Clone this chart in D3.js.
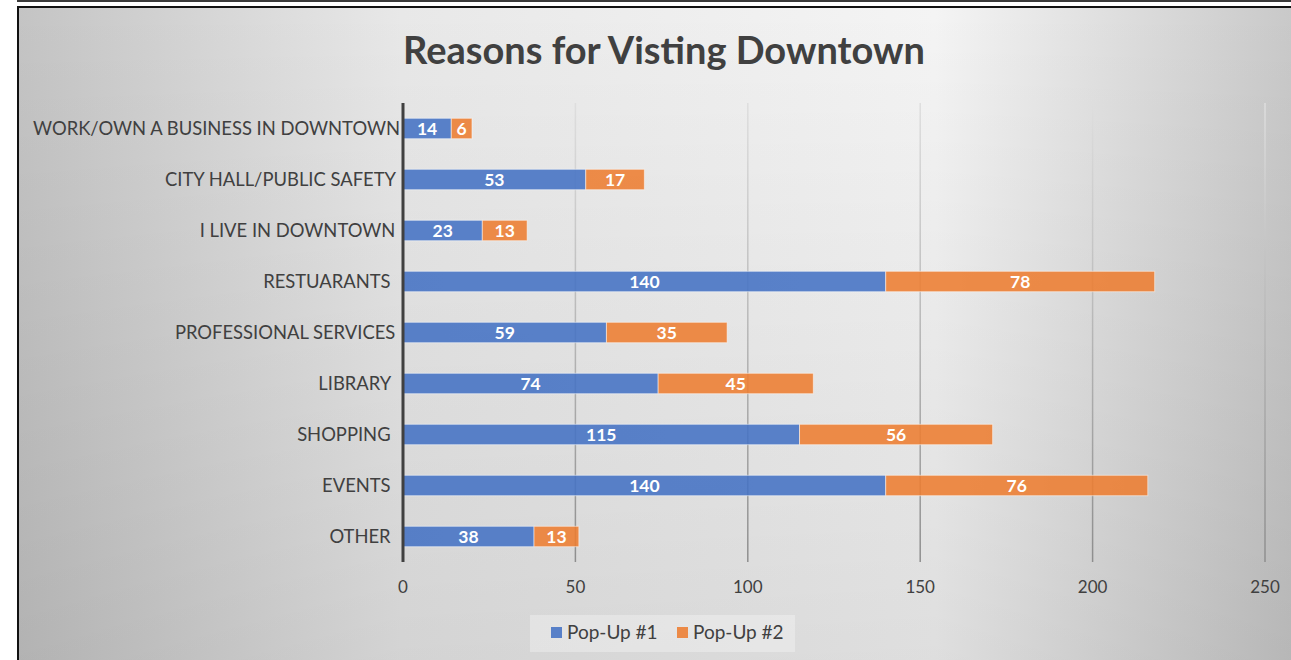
<!DOCTYPE html>
<html>
<head>
<meta charset="utf-8">
<script src="https://cdn.jsdelivr.net/npm/d3@7"></script>
<style>
  body { margin: 0; background: #fff; }
  svg text { white-space: pre; }
</style>
</head>
<body>
<div id="chart"></div>
<script>
// Data (top to bottom)
const categories = [
  "WORK/OWN A BUSINESS IN DOWNTOWN",
  "CITY HALL/PUBLIC SAFETY ",
  "I LIVE IN DOWNTOWN ",
  "RESTUARANTS  ",
  "PROFESSIONAL SERVICES ",
  "LIBRARY  ",
  "SHOPPING  ",
  "EVENTS  ",
  "OTHER  "
];
const popUp1 = [14, 53, 23, 140, 59, 74, 115, 140, 38];
const popUp2 = [6, 17, 13, 78, 35, 45, 56, 76, 13];
const seriesNames = ["Pop-Up #1", "Pop-Up #2"];
const seriesColors = ["#4472C4", "#ED7D31"];
const xTicks = [0, 50, 100, 150, 200, 250];

let width = 1291;
let height = 660;
let textColor = "#404040";
let font = "Lato, 'Open Sans', sans-serif";

let svg = d3.select("#chart")
  .append("svg")
  .attr("width", width)
  .attr("height", height);

let defs = svg.append("defs");

// background gradient: light in the upper middle, darker at the sides
let bgGrad = defs.append("linearGradient")
  .attr("id", "bg")
  .attr("x1", 0).attr("x2", 1).attr("y1", 0).attr("y2", 0);
bgGrad.append("stop").attr("offset", 0).attr("stop-color", "#c4c4c4");
bgGrad.append("stop").attr("offset", 0.3).attr("stop-color", "#e8e8e8");
bgGrad.append("stop").attr("offset", 0.72).attr("stop-color", "#f4f4f4");
bgGrad.append("stop").attr("offset", 1).attr("stop-color", "#c9c9c9");

let shade = defs.append("linearGradient")
  .attr("id", "shade")
  .attr("x1", 0).attr("x2", 0).attr("y1", 0).attr("y2", 1);
shade.append("stop").attr("offset", 0).attr("stop-color", "#000").attr("stop-opacity", 0);
shade.append("stop").attr("offset", 1).attr("stop-color", "#000").attr("stop-opacity", 0.09);

// scales
let xScale = d3.scaleLinear()
  .domain([0, 250])
  .range([403, 1265]);

let yScale = d3.scaleBand()
  .domain(categories)
  .range([103, 562])
  .paddingInner(0.6)
  .paddingOuter(0.3);

// gridline gradient fades toward the top
let gridGrad = defs.append("linearGradient")
  .attr("id", "grid")
  .attr("gradientUnits", "userSpaceOnUse")
  .attr("x1", 0).attr("x2", 0)
  .attr("y1", yScale.range()[0]).attr("y2", yScale.range()[1]);
gridGrad.append("stop").attr("offset", 0).attr("stop-color", "#dedede");
gridGrad.append("stop").attr("offset", 1).attr("stop-color", "#8e8e8e");

// frame lines
svg.append("rect")
  .attr("x", 17).attr("y", 0)
  .attr("width", width - 17).attr("height", 2)
  .attr("fill", "#3a3a3a");
svg.append("rect")
  .attr("x", 17).attr("y", 6)
  .attr("width", width - 17).attr("height", height - 6)
  .attr("fill", "#111");
svg.append("rect")
  .attr("x", 19).attr("y", 8)
  .attr("width", width - 19).attr("height", height - 8)
  .attr("fill", "url(#bg)");
svg.append("rect")
  .attr("x", 19).attr("y", 8)
  .attr("width", width - 19).attr("height", height - 8)
  .attr("fill", "url(#shade)");

// title
svg.append("text")
  .attr("x", 664)
  .attr("y", 64)
  .attr("text-anchor", "middle")
  .attr("font-family", font)
  .attr("font-weight", "bold")
  .attr("font-size", 38)
  .attr("fill", textColor)
  .text("Reasons for Visting Downtown");

// vertical gridlines
svg.append("g")
  .selectAll("line")
  .data(xTicks.slice(1))
  .enter()
  .append("line")
  .attr("x1", d => xScale(d))
  .attr("x2", d => xScale(d))
  .attr("y1", yScale.range()[0])
  .attr("y2", yScale.range()[1])
  .attr("stroke", "url(#grid)")
  .attr("stroke-width", 1.5);

// x tick labels
svg.append("g")
  .selectAll("text")
  .data(xTicks)
  .enter()
  .append("text")
  .attr("x", d => xScale(d))
  .attr("y", 593)
  .attr("text-anchor", "middle")
  .attr("font-family", font)
  .attr("font-size", 17)
  .attr("fill", textColor)
  .text(d => d);

// stacked bars
let stacked = categories.map((c, i) => ({
  cat: c,
  segs: [
    {s: 0, x0: 0, x1: popUp1[i], v: popUp1[i]},
    {s: 1, x0: popUp1[i], x1: popUp1[i] + popUp2[i], v: popUp2[i]}
  ]
}));

let rows = svg.append("g")
  .selectAll("g")
  .data(stacked)
  .enter()
  .append("g");

rows.selectAll("rect")
  .data(d => d.segs.map(s => Object.assign({cat: d.cat}, s)))
  .enter()
  .append("rect")
  .attr("x", d => xScale(d.x0))
  .attr("y", d => yScale(d.cat))
  .attr("width", d => xScale(d.x1) - xScale(d.x0))
  .attr("height", yScale.bandwidth())
  .attr("fill", d => seriesColors[d.s])
  .attr("fill-opacity", 0.88)
  .attr("stroke", "#fff")
  .attr("stroke-opacity", 0.5)
  .attr("stroke-width", 1);

rows.selectAll("text")
  .data(d => d.segs.map(s => Object.assign({cat: d.cat}, s)))
  .enter()
  .append("text")
  .attr("x", d => (xScale(d.x0) + xScale(d.x1)) / 2)
  .attr("y", d => yScale(d.cat) + yScale.bandwidth() / 2 + 6)
  .attr("text-anchor", "middle")
  .attr("font-family", font)
  .attr("font-weight", "bold")
  .attr("font-size", 17.5)
  .attr("fill", "#fff")
  .text(d => d.v);

// category axis line
svg.append("line")
  .attr("x1", xScale(0))
  .attr("x2", xScale(0))
  .attr("y1", yScale.range()[0])
  .attr("y2", yScale.range()[1])
  .attr("stroke", "#404040")
  .attr("stroke-width", 3);

// category labels
svg.append("g")
  .selectAll("text")
  .data(categories)
  .enter()
  .append("text")
  .attr("x", 400)
  .attr("y", d => yScale(d) + yScale.bandwidth() / 2 + 6)
  .attr("text-anchor", "end")
  .attr("font-family", font)
  .attr("font-size", 18.4)
  .attr("fill", textColor)
  .text(d => d);

// legend
let legend = svg.append("g");
legend.append("rect")
  .attr("x", 530).attr("y", 615)
  .attr("width", 265).attr("height", 37)
  .attr("fill", "#fff")
  .attr("fill-opacity", 0.3);

let legendX = [551, 677];
seriesNames.forEach((name, i) => {
  legend.append("rect")
    .attr("x", legendX[i]).attr("y", 627)
    .attr("width", 11).attr("height", 11)
    .attr("fill", seriesColors[i])
    .attr("fill-opacity", 0.88);
  legend.append("text")
    .attr("x", legendX[i] + 16)
    .attr("y", 639)
    .attr("font-family", font)
    .attr("font-size", 19)
    .attr("fill", textColor)
    .text(name);
});
</script>
</body>
</html>
